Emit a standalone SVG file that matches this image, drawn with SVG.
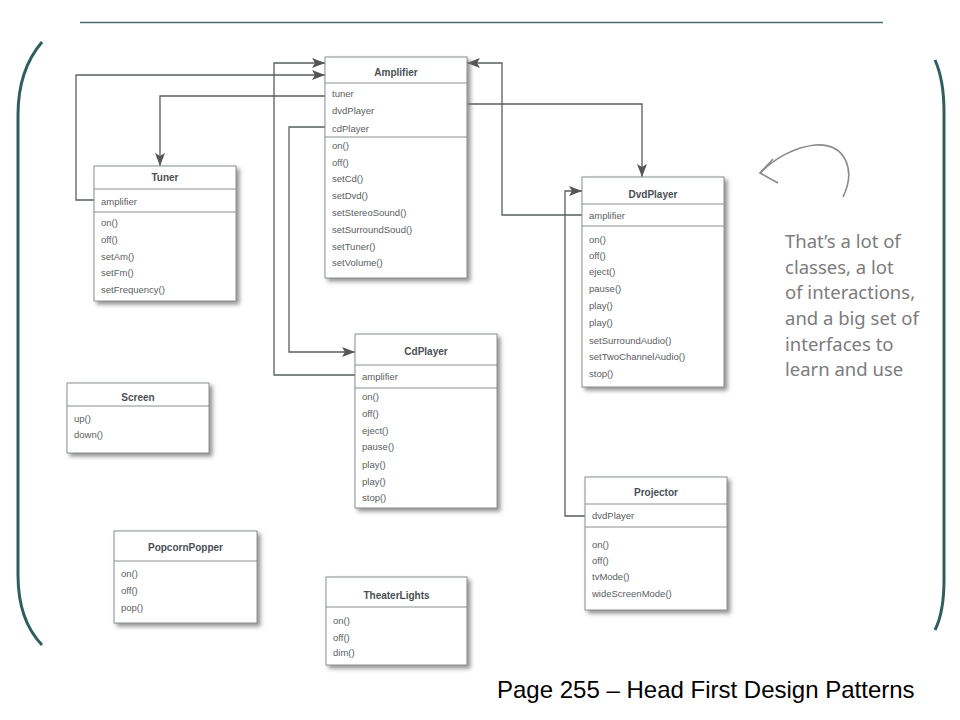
<svg xmlns="http://www.w3.org/2000/svg" width="960" height="720" viewBox="0 0 960 720">
<defs>
<style>
.box{fill:#fff;stroke:#8a8f92;stroke-width:1}
.sep{stroke:#8a8f92;stroke-width:1}
.t{font-family:"Liberation Sans",Arial,sans-serif;font-size:9.5px;fill:#5a5e62}
.h{font-family:"Liberation Sans",Arial,sans-serif;font-size:10px;font-weight:bold;fill:#4a4f55;text-anchor:middle}
.c{fill:none;stroke:#5a5d60;stroke-width:1.3}
.br{fill:none;stroke:#2e5f5d;stroke-width:3}
.hw{font-family:"Noto Sans","DejaVu Sans",sans-serif;font-size:18.5px;fill:#7c7c7c}
</style>
<filter id="sh" x="-10%" y="-10%" width="125%" height="125%">
<feDropShadow dx="3" dy="3" stdDeviation="2" flood-color="#777" flood-opacity="0.8"/>
</filter>
<marker id="ar" viewBox="0 0 13 10" refX="13" refY="5" markerWidth="13" markerHeight="10" markerUnits="userSpaceOnUse" orient="auto">
<path d="M0,0 L13,5 L0,10 L3,5 z" fill="#555"/>
</marker>
</defs>
<rect width="960" height="720" fill="#fff"/>
<line x1="80" y1="22.5" x2="883" y2="22.5" stroke="#4d6b6b" stroke-width="1.5"/>
<path class="br" d="M42,42 Q18,70 18,115 V575 Q18,620 42,645"/>
<path class="br" d="M935,60 Q944,80 944,112 V580 Q944,612 935,630"/>

<g id="connectors">
<path class="c" d="M94,200 H76 V75 H325" marker-end="url(#ar)"/>
<path class="c" d="M355,375 H274 V63 H325" marker-end="url(#ar)"/>
<path class="c" d="M325,96 H160 V166" marker-end="url(#ar)"/>
<path class="c" d="M325,127 H289 V352 H355" marker-end="url(#ar)"/>
<path class="c" d="M582,215 H502 V63 H467" marker-end="url(#ar)"/>
<path class="c" d="M467,104 H642 V177" marker-end="url(#ar)"/>
<path class="c" d="M585,516 H565 V191 H582" marker-end="url(#ar)"/>
</g>

<g id="amplifier">
<rect class="box" x="325" y="57" width="142" height="221" filter="url(#sh)"/>
<line class="sep" x1="325" y1="83" x2="467" y2="83"/>
<line class="sep" x1="325" y1="137" x2="467" y2="137"/>
<text class="h" x="396" y="75.5">Amplifier</text>
<text class="t" x="332" y="97">tuner</text>
<text class="t" x="332" y="114">dvdPlayer</text>
<text class="t" x="332" y="131.5">cdPlayer</text>
<text class="t" x="332" y="149">on()</text>
<text class="t" x="332" y="166">off()</text>
<text class="t" x="332" y="182">setCd()</text>
<text class="t" x="332" y="199">setDvd()</text>
<text class="t" x="332" y="216">setStereoSound()</text>
<text class="t" x="332" y="233">setSurroundSoud()</text>
<text class="t" x="332" y="250">setTuner()</text>
<text class="t" x="332" y="266">setVolume()</text>
</g>

<g id="tuner">
<rect class="box" x="94" y="166" width="142" height="135" filter="url(#sh)"/>
<line class="sep" x1="94" y1="189" x2="236" y2="189"/>
<line class="sep" x1="94" y1="212" x2="236" y2="212"/>
<text class="h" x="165" y="181">Tuner</text>
<text class="t" x="101" y="204.5">amplifier</text>
<text class="t" x="101" y="226">on()</text>
<text class="t" x="101" y="243">off()</text>
<text class="t" x="101" y="259.5">setAm()</text>
<text class="t" x="101" y="276">setFm()</text>
<text class="t" x="101" y="293">setFrequency()</text>
</g>

<g id="dvdplayer">
<rect class="box" x="582" y="177" width="142" height="210" filter="url(#sh)"/>
<line class="sep" x1="582" y1="204" x2="724" y2="204"/>
<line class="sep" x1="582" y1="226" x2="724" y2="226"/>
<text class="h" x="653" y="197.5">DvdPlayer</text>
<text class="t" x="589" y="219">amplifier</text>
<text class="t" x="589" y="242.5">on()</text>
<text class="t" x="589" y="258.5">off()</text>
<text class="t" x="589" y="275">eject()</text>
<text class="t" x="589" y="292">pause()</text>
<text class="t" x="589" y="309">play()</text>
<text class="t" x="589" y="326">play()</text>
<text class="t" x="589" y="343.5">setSurroundAudio()</text>
<text class="t" x="589" y="360">setTwoChannelAudio()</text>
<text class="t" x="589" y="377">stop()</text>
</g>

<g id="cdplayer">
<rect class="box" x="355" y="334" width="142" height="174" filter="url(#sh)"/>
<line class="sep" x1="355" y1="365" x2="497" y2="365"/>
<line class="sep" x1="355" y1="388" x2="497" y2="388"/>
<text class="h" x="426" y="355">CdPlayer</text>
<text class="t" x="362" y="379.5">amplifier</text>
<text class="t" x="362" y="400">on()</text>
<text class="t" x="362" y="417">off()</text>
<text class="t" x="362" y="433.5">eject()</text>
<text class="t" x="362" y="450">pause()</text>
<text class="t" x="362" y="467.5">play()</text>
<text class="t" x="362" y="484.5">play()</text>
<text class="t" x="362" y="501">stop()</text>
</g>

<g id="projector">
<rect class="box" x="585" y="477" width="142" height="133" filter="url(#sh)"/>
<line class="sep" x1="585" y1="504" x2="727" y2="504"/>
<line class="sep" x1="585" y1="527" x2="727" y2="527"/>
<text class="h" x="656" y="496">Projector</text>
<text class="t" x="592" y="519">dvdPlayer</text>
<text class="t" x="592" y="547.5">on()</text>
<text class="t" x="592" y="563.5">off()</text>
<text class="t" x="592" y="580">tvMode()</text>
<text class="t" x="592" y="597">wideScreenMode()</text>
</g>

<g id="screen">
<rect class="box" x="67" y="383" width="142" height="70" filter="url(#sh)"/>
<line class="sep" x1="67" y1="406" x2="209" y2="406"/>
<text class="h" x="138" y="401">Screen</text>
<text class="t" x="74" y="422">up()</text>
<text class="t" x="74" y="437.5">down()</text>
</g>

<g id="popcornpopper">
<rect class="box" x="114" y="531" width="143" height="92" filter="url(#sh)"/>
<line class="sep" x1="114" y1="561" x2="257" y2="561"/>
<text class="h" x="185.5" y="551">PopcornPopper</text>
<text class="t" x="121" y="577">on()</text>
<text class="t" x="121" y="594">off()</text>
<text class="t" x="121" y="611">pop()</text>
</g>

<g id="theaterlights">
<rect class="box" x="326" y="577" width="141" height="88" filter="url(#sh)"/>
<line class="sep" x1="326" y1="607" x2="467" y2="607"/>
<text class="h" x="396.5" y="598.5">TheaterLights</text>
<text class="t" x="333" y="624">on()</text>
<text class="t" x="333" y="641">off()</text>
<text class="t" x="333" y="656">dim()</text>
</g>

<g id="note">
<path d="M843,197 C856,170 846,143 815,145 C795,147 775,158 760,173" fill="none" stroke="#8a8a8a" stroke-width="1.6"/>
<path d="M773,159 L760,173 L778,183" fill="none" stroke="#8a8a8a" stroke-width="1.6"/>
<text class="hw" x="785" y="248">That’s a lot of</text>
<text class="hw" x="785" y="274">classes, a lot</text>
<text class="hw" x="785" y="299">of interactions,</text>
<text class="hw" x="785" y="325">and a big set of</text>
<text class="hw" x="785" y="351">interfaces to</text>
<text class="hw" x="785" y="376">learn and use</text>
</g>

<text x="497" y="698" font-family="'Liberation Sans',Arial,sans-serif" font-size="24px" fill="#000">Page 255 – Head First Design Patterns</text>
</svg>
